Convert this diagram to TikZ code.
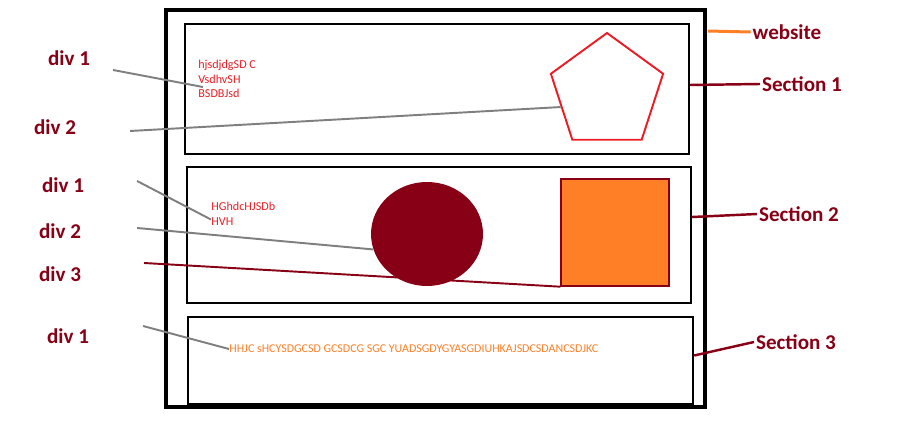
\documentclass[tikz,border=0pt]{standalone}
\usepackage{fontspec}
\setmainfont{Carlito}
\usetikzlibrary{shapes.geometric,calc}
\definecolor{darkred}{RGB}{136,0,21}
\definecolor{paintorange}{RGB}{255,127,39}
\definecolor{paintred}{RGB}{237,28,36}
\definecolor{linegray}{RGB}{127,127,127}

\begin{document}
\begin{tikzpicture}[x=0.02cm,y=-0.02cm,
  lbl/.style={text=darkred,font=\bfseries\fontsize{12}{14}\selectfont,inner sep=1pt},
  box/.style={draw=black,line width=1.4pt,inner sep=0pt},
  small/.style={text=paintred,font=\fontsize{6.9}{8.2}\selectfont,align=left,inner sep=0pt},
  pointer/.style={draw=linegray,line width=1.1pt},
  tag/.style={draw=darkred,line width=1.4pt}]
\useasboundingbox (0,0) rectangle (905,435);

% page and its three sections
\node[box,line width=2.3pt,minimum width=10.78cm,minimum height=7.94cm] (outer) at (435.5,208.5) {};
\node[box,minimum width=10.08cm,minimum height=2.6cm] (sec1) at (437,89) {};
\node[box,minimum width=10.08cm,minimum height=2.72cm] (sec2) at (439,235) {};
\node[box,minimum width=10.1cm,minimum height=1.74cm] (sec3) at (440.5,360.5) {};

% contents
\node[small,anchor=north west] (t1) at (198,60) {hjsdjdgSD C\\VsdhvSH\\BSDBJsd};
\node[regular polygon,regular polygon sides=5,draw=paintred,line width=1.1pt,
  minimum size=2.36cm,inner sep=0pt] (pent) at (607,92) {};
\node[small,anchor=north west] (t2) at (211,202) {HGhdcHJSDb\\HVH};
\node[ellipse,fill=darkred,minimum width=2.24cm,minimum height=2.08cm,inner sep=0pt] (ell) at (427,234) {};
\node[draw=darkred,fill=paintorange,line width=0.8pt,minimum width=2.16cm,minimum height=2.14cm,inner sep=0pt] (sq) at (615,232.5) {};
\node[anchor=west,text=paintorange,font=\fontsize{6.8}{8}\selectfont,inner sep=0pt] (t3) at (229,349)
  {HHJC sHCYSDGCSD GCSDCG SGC YUADSGDYGYASGDIUHKAJSDCSDANCSDJKC};

% labels
\node[lbl] (d1a) at (69,58) {div 1};
\node[lbl] (d2a) at (55,127) {div 2};
\node[lbl] (d1b) at (63,185) {div 1};
\node[lbl] (d2b) at (60,231) {div 2};
\node[lbl] (d3b) at (60,274) {div 3};
\node[lbl] (d1c) at (68,336) {div 1};
\node[lbl] (web) at (787,32) {website};
\node[lbl] (s1) at (802,84) {Section 1};
\node[lbl] (s2) at (799,214) {Section 2};
\node[lbl] (s3) at (796,342) {Section 3};

% pointers
\draw[pointer] ($(d1a.east)+(21,12)$) -- ($(t1.south west)+(5,-11)$);
\draw[pointer] ($(d2a.east)+(52,4)$) -- (pent.side 2);
\draw[pointer] ($(d1b.east)+(51,-4)$) -- ($(t2.south west)+(0,-6)$);
\draw[pointer] ($(d2b.east)+(54,-3)$) -- (ell.196);
\draw[tag,line width=1.1pt] ($(d3b.east)+(61,-11)$) -- (sq.south west);
\draw[pointer] ($(d1c.east)+(52,-10)$) -- (t3.west);
\draw[draw=paintorange,line width=1.7pt] ($(outer.north east)+(1,23)$) -- (web.west);
\draw[tag] ($(sec1.east)+(0,-4)$) -- (s1.west);
\draw[tag] ($(sec2.east)+(0,-18)$) -- (s2.west);
\draw[tag] ($(sec3.east)+(0,-5)$) -- (s3.west);
\end{tikzpicture}
\end{document}
